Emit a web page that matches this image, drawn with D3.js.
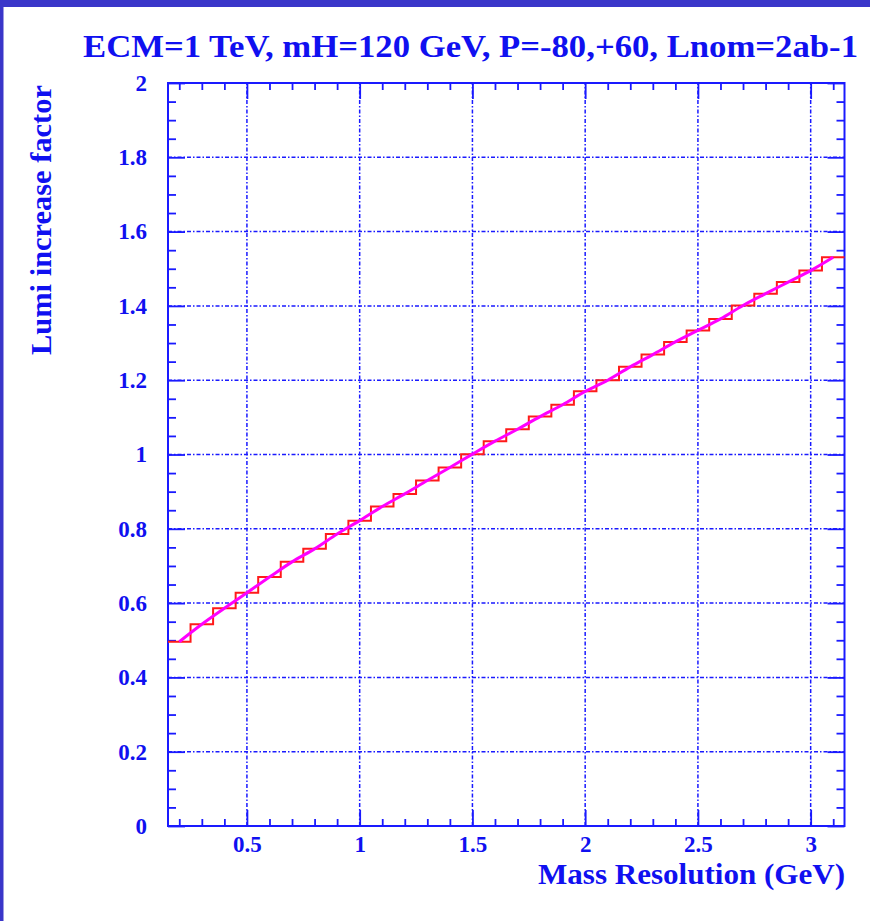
<!DOCTYPE html>
<html>
<head>
<meta charset="utf-8">
<script src="https://cdn.jsdelivr.net/npm/d3@7"></script>
<style>
  html, body { margin: 0; padding: 0; background: #fff; }
  svg { display: block; }
  text { font-family: "Liberation Serif", "DejaVu Serif", serif; font-weight: bold; fill: #1010f0; }
</style>
</head>
<body>
<div id="graph"></div>
<script>
// histogram bins (centers, GeV) and lumi increase factor per bin
const binCenters = [0.2, 0.3, 0.4, 0.5, 0.6, 0.7, 0.8, 0.9, 1.0, 1.1,
  1.2, 1.3, 1.4, 1.5, 1.6, 1.7, 1.8, 1.9, 2.0, 2.1,
  2.2, 2.3, 2.4, 2.5, 2.6, 2.7, 2.8, 2.9, 3.0, 3.1];
const binValues = [0.496, 0.543, 0.586, 0.628, 0.670, 0.711, 0.746, 0.786, 0.822, 0.860,
  0.894, 0.930, 0.965, 1.001, 1.036, 1.068, 1.102, 1.134, 1.170, 1.200,
  1.236, 1.269, 1.303, 1.334, 1.365, 1.401, 1.433, 1.464, 1.495, 1.531];
const xMajorTicks = [0.5, 1, 1.5, 2, 2.5, 3];
const yMajorTicks = [0, 0.2, 0.4, 0.6, 0.8, 1, 1.2, 1.4, 1.6, 1.8, 2];
const xDomain = [0.15, 3.15];
const yDomain = [0, 2];

const W = 870, H = 921;
const blue = '#1a1aff';
const margin = { left: 168, right: 25.5, top: 83, bottom: 95 };

const svg = d3.select('#graph').append('svg')
  .attr('width', W)
  .attr('height', H);

// slide frame
svg.append('rect').attr('x', 0).attr('y', 0).attr('width', W).attr('height', 7).attr('fill', '#3a36c9');
svg.append('rect').attr('x', 0).attr('y', 0).attr('width', 3.5).attr('height', H).attr('fill', '#3a36c9');

const x = d3.scaleLinear().domain(xDomain).range([margin.left, W - margin.right]);
const y = d3.scaleLinear().domain(yDomain).range([H - margin.bottom, margin.top]);

const minorX = d3.range(2, 32).map((i) => i / 10).filter((v) => !xMajorTicks.some((m) => Math.abs(m - v) < 1e-6));
const minorY = d3.range(0, 41).map((i) => i / 20).filter((v) => !yMajorTicks.some((m) => Math.abs(m - v) < 1e-6));

// grid
const grid = svg.append('g').attr('class', 'grid')
  .attr('stroke', blue)
  .attr('stroke-width', 1.5)
  .attr('stroke-dasharray', '4,2,1.5,2');
grid.selectAll('.gx').data(xMajorTicks).join('line')
  .attr('x1', (d) => x(d)).attr('x2', (d) => x(d))
  .attr('y1', y(0)).attr('y2', y(2));
grid.selectAll('.gy').data(yMajorTicks.slice(1, -1)).join('line')
  .attr('y1', (d) => y(d)).attr('y2', (d) => y(d))
  .attr('x1', x(xDomain[0])).attr('x2', x(xDomain[1]));

// axes
const fmt = (d) => d3.format('~g')(d);
function styleAxis(g) {
  g.select('.domain').remove();
  g.selectAll('line').attr('stroke', blue).attr('stroke-width', 1.8);
  g.selectAll('text').attr('fill', '#1010f0').attr('font-size', 23)
    .attr('font-family', '"Liberation Serif", serif').attr('font-weight', 'bold');
}

svg.append('g').attr('transform', `translate(0,${y(0)})`)
  .call(d3.axisBottom(x).tickValues(xMajorTicks).tickSizeInner(-16).tickSizeOuter(0).tickPadding(10).tickFormat(fmt))
  .call(styleAxis);
svg.append('g').attr('transform', `translate(0,${y(0)})`)
  .call(d3.axisBottom(x).tickValues(minorX).tickSizeInner(-7).tickSizeOuter(0).tickFormat(''))
  .call(styleAxis);
svg.append('g').attr('transform', `translate(0,${y(2)})`)
  .call(d3.axisTop(x).tickValues(xMajorTicks).tickSizeInner(-16).tickSizeOuter(0).tickFormat(''))
  .call(styleAxis);
svg.append('g').attr('transform', `translate(0,${y(2)})`)
  .call(d3.axisTop(x).tickValues(minorX).tickSizeInner(-7).tickSizeOuter(0).tickFormat(''))
  .call(styleAxis);

svg.append('g').attr('transform', `translate(${x(xDomain[0])},0)`)
  .call(d3.axisLeft(y).tickValues(yMajorTicks).tickSizeInner(-17).tickSizeOuter(0).tickPadding(21).tickFormat(fmt))
  .call(styleAxis);
svg.append('g').attr('transform', `translate(${x(xDomain[0])},0)`)
  .call(d3.axisLeft(y).tickValues(minorY).tickSizeInner(-8).tickSizeOuter(0).tickFormat(''))
  .call(styleAxis);
svg.append('g').attr('transform', `translate(${x(xDomain[1])},0)`)
  .call(d3.axisRight(y).tickValues(yMajorTicks).tickSizeInner(-17).tickSizeOuter(0).tickFormat(''))
  .call(styleAxis);
svg.append('g').attr('transform', `translate(${x(xDomain[1])},0)`)
  .call(d3.axisRight(y).tickValues(minorY).tickSizeInner(-8).tickSizeOuter(0).tickFormat(''))
  .call(styleAxis);

// frame
svg.append('rect')
  .attr('x', x(xDomain[0])).attr('y', y(2))
  .attr('width', x(xDomain[1]) - x(xDomain[0]))
  .attr('height', y(0) - y(2))
  .attr('fill', 'none')
  .attr('stroke', blue)
  .attr('stroke-width', 2);

// histogram (step outline)
const histPts = binCenters.map((c, i) => [c, binValues[i]]);
const histPath = [[xDomain[0], binValues[0]], ...histPts, [xDomain[1], binValues[binValues.length - 1]]];
svg.append('path')
  .datum(histPath)
  .attr('fill', 'none')
  .attr('stroke', '#ff1a1a')
  .attr('stroke-width', 2)
  .attr('d', d3.line().x((d) => x(d[0])).y((d) => y(d[1])).curve(d3.curveStep));

// fit curve through bin centers
svg.append('path')
  .datum(histPts)
  .attr('fill', 'none')
  .attr('stroke', '#ff00ff')
  .attr('stroke-width', 3)
  .attr('d', d3.line().x((d) => x(d[0])).y((d) => y(d[1])).curve(d3.curveMonotoneX));

// titles
svg.append('text')
  .attr('x', 83).attr('y', 57)
  .attr('font-size', 32)
  .attr('textLength', 775)
  .attr('lengthAdjust', 'spacingAndGlyphs')
  .text('ECM=1 TeV, mH=120 GeV, P=-80,+60, Lnom=2ab-1');

svg.append('text')
  .attr('x', 845).attr('y', 884)
  .attr('text-anchor', 'end')
  .attr('font-size', 30)
  .attr('textLength', 307)
  .attr('lengthAdjust', 'spacingAndGlyphs')
  .text('Mass Resolution (GeV)');

svg.append('text')
  .attr('transform', 'translate(51,85) rotate(-90)')
  .attr('text-anchor', 'end')
  .attr('font-size', 29)
  .attr('textLength', 270)
  .attr('lengthAdjust', 'spacingAndGlyphs')
  .text('Lumi increase factor');
</script>
</body>
</html>
